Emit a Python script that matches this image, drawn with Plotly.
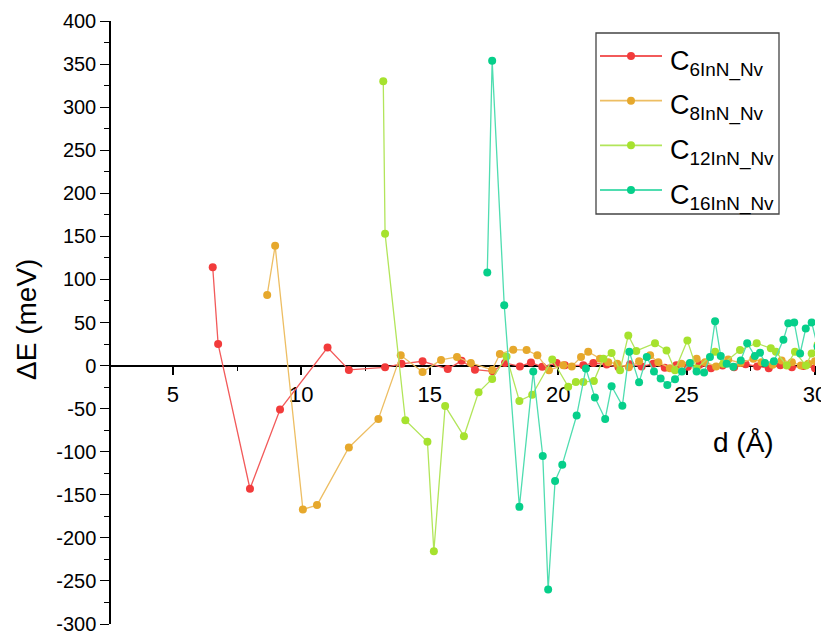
import plotly.graph_objects as go

# ---------------- data ----------------
x_c6 = [6.55, 6.76, 8.0, 9.17, 11.02, 11.85, 13.26, 13.9, 14.72, 15.7, 16.24, 16.76, 17.45,
        17.93, 18.51, 18.94, 19.38, 19.94, 20.26, 20.98, 21.37, 21.89, 22.35, 22.8, 23.25,
        23.7, 24.15, 24.6, 25.05, 25.5, 25.95, 26.4, 26.85, 27.3, 27.75, 28.2, 28.65, 29.1,
        29.55, 30.0]
y_c6 = [114, 25, -143, -51, 21, -5, -2, 2, 5, -4, 5.5, -4.8, -6.7,
        3, -1, 3.5, -1.5, 3, 0.3, 0.3, 3, 1.2, -2, 1.5, -1,
        2, -2.5, 0.5, -1.5, 1, -3, 0, -2, 1.5, -1, -3, 0.5, -2,
        -0.5, -3]

x_c8 = [8.67, 8.98, 10.06, 10.61, 11.85, 13.0, 13.87, 14.72, 15.44, 16.06, 16.6, 17.43,
        17.73, 18.25, 18.77, 19.19, 19.64, 20.2, 20.53, 20.89, 21.17, 21.63, 21.95, 22.3,
        22.75, 23.15, 23.58, 23.9, 24.35, 24.8, 25.39, 25.72, 26.15, 26.62, 27.1, 27.6,
        27.92, 28.35, 28.7, 29.1, 29.45, 29.74, 30.0]
y_c8 = [82, 139, -167, -162, -95, -62, 12, -7.5, 6.5, 10, 3, -5,
        13.5, 18.5, 18, 12, -5.5, 0.5, -1, 10, 16, 8, 4, 2,
        -2, 5, 12, 4, -3, 2, 8, 4, -1, 7, 3, 8,
        4, 1, 6, 4, 0, 2, 5]

x_c12 = [13.19, 13.26, 14.05, 14.91, 15.16, 15.6, 16.33, 16.9, 17.43, 17.99, 18.49, 18.99,
         19.77, 20.39, 20.69, 20.98, 21.39, 21.76, 22.08, 22.41, 22.73, 23.04, 23.77, 24.22,
         24.55, 25.03, 25.39, 26.11, 26.43, 27.08, 27.73, 28.28, 28.48, 28.9, 29.22, 29.65,
         29.87, 30.1]
y_c12 = [330, 153, -63.5, -88.5, -215.5, -47, -82, -31, -15.5, 10.5, -41, -34,
         7, -24.5, -19, -19, -18, 8, 14.5, -5.5, 35, 17, 26, 17.5,
         -5.5, 29, -3.5, 16, 2, 18, 26, 20, 16, 0, 16, 0,
         14, 24]

x_c16 = [17.24, 17.43, 17.9, 18.49, 19.03, 19.4, 19.61, 19.88, 20.16, 20.72, 21.08, 21.43,
         21.83, 22.08, 22.5, 22.77, 23.15, 23.45, 23.73, 23.99, 24.25, 24.55, 24.82, 25.13,
         25.39, 25.68, 25.91, 26.11, 26.33, 26.56, 26.82, 27.11, 27.36, 27.66, 27.86, 28.05,
         28.4, 28.77, 28.96, 29.19, 29.42, 29.64, 29.87, 30.1]
y_c16 = [108, 354, 70, -164, -7, -105, -260, -134, -115, -58, -3.5, -37,
         -62, -24, -46.5, 16, -19.5, 10, -7, -15, -22.5, -16, -7, 3,
         -7, -8, 10, 51.5, 11, 2, -1.5, 6, 26, 11, 15, 3,
         5, 30, 49, 50, 14, 43, 50, 22]

series_names = ["C<sub>6InN_Nv</sub>", "C<sub>8InN_Nv</sub>",
                "C<sub>12InN_Nv</sub>", "C<sub>16InN_Nv</sub>"]
y_tick_vals = [400, 350, 300, 250, 200, 150, 100, 50, 0, -50, -100, -150, -200, -250, -300]
y_tick_text = ["400", "350", "300", "250", "200", "150", "100", "50", "0",
               "-50", "-100", "-150", "-200", "-250", "-300"]
x_tick_vals = [5, 10, 15, 20, 25, 30]

# ---------------- style ----------------
marker_colors = ["#F23B3B", "#E6A82C", "#A6E22E", "#06CF8A"]
line_colors = ["#F25A5A", "#EDBE63", "#B2E55A", "#4FDDB0"]
FONT = "Arial, 'Liberation Sans', sans-serif"

# page is shown with an 8px body margin -> compensate
PAGE_OFF = 8
W, H = 829 - PAGE_OFF, 632 - PAGE_OFF
PL, PR, PT, PB = 110, 815, 21, 624          # plot area in page pixels
X_RANGE = [2.55, 30]
Y_MIN, Y_MAX = -300, 400


def px(xp):
    return (xp - PL) / (PR - PL)


def py(yp):
    return (PB - yp) / (PB - PT)


fig = go.Figure()
for xs, ys, name, mc, lc in zip([x_c6, x_c8, x_c12, x_c16],
                                [y_c6, y_c8, y_c12, y_c16],
                                series_names, marker_colors, line_colors):
    fig.add_trace(go.Scatter(
        x=xs, y=ys, name=name, mode="lines+markers",
        line=dict(color=lc, width=1.3),
        marker=dict(color=mc, size=8, line=dict(width=0)),
        cliponaxis=True, showlegend=False,
    ))

# ---------------- legend (drawn) ----------------
shapes = [dict(type="rect", xref="paper", yref="paper",
               x0=px(596), x1=px(779), y0=py(214), y1=py(33),
               line=dict(color="#444444", width=1.3), fillcolor="white", layer="above")]
annotations = []
entry_y = [56, 100.7, 145.3, 190]
for ey, name, mc, lc in zip(entry_y, series_names, marker_colors, line_colors):
    shapes.append(dict(type="line", xref="paper", yref="paper",
                       x0=px(600), x1=px(662), y0=py(ey), y1=py(ey),
                       line=dict(color=lc, width=1.8), layer="above"))
    shapes.append(dict(type="circle", xref="paper", yref="paper",
                       xsizemode="pixel", ysizemode="pixel",
                       xanchor=px(631), yanchor=py(ey),
                       x0=-4, x1=4, y0=-4, y1=4,
                       fillcolor=mc, line=dict(width=0), layer="above"))
    annotations.append(dict(text=name, xref="paper", yref="paper",
                            x=px(668), y=py(ey + 7), xanchor="left", yanchor="middle",
                            showarrow=False, font=dict(size=27, family=FONT)))

annotations += [
    dict(text="d (Å)", xref="paper", yref="paper",
         x=px(743), y=py(443), xanchor="center", yanchor="middle",
         showarrow=False, font=dict(size=28, family=FONT)),
    dict(text="ΔE (meV)", xref="paper", yref="paper",
         x=px(26), y=py(320), xanchor="center", yanchor="middle",
         textangle=-90, showarrow=False, font=dict(size=28, family=FONT)),
]

fig.update_layout(
    width=W, height=H,
    margin=dict(l=PL - PAGE_OFF, r=W - (PR - PAGE_OFF), t=PT - PAGE_OFF,
                b=H - (PB - PAGE_OFF), pad=0),
    paper_bgcolor="white", plot_bgcolor="white",
    font=dict(family=FONT, color="black"),
    showlegend=False,
    xaxis=dict(
        range=X_RANGE, anchor="free",
        position=(0 - Y_MIN) / (Y_MAX - Y_MIN),
        showline=True, linecolor="black", linewidth=1.5,
        ticks="outside", ticklen=9, tickwidth=1.5, tickcolor="black",
        tickvals=x_tick_vals, tickfont=dict(size=22, family=FONT),
        ticklabeloverflow="allow",
        minor=dict(ticks="outside", ticklen=5, tickwidth=1.3, dtick=2.5, tick0=0,
                   tickcolor="black"),
        showgrid=False, zeroline=False, layer="below traces", automargin=False,
    ),
    yaxis=dict(
        range=[Y_MIN, Y_MAX], anchor="free", position=0,
        showline=True, linecolor="black", linewidth=1.5,
        ticks="outside", ticklen=9, tickwidth=1.3, tickcolor="black",
        tickvals=y_tick_vals, ticktext=y_tick_text,
        tickfont=dict(size=20, family=FONT),
        ticklabeloverflow="allow",
        minor=dict(ticks="outside", ticklen=5, tickwidth=1.2, dtick=25, tick0=0,
                   tickcolor="black"),
        showgrid=False, zeroline=False, layer="below traces", automargin=False,
    ),
    shapes=shapes,
    annotations=annotations,
)

fig.write_html("out.html")
